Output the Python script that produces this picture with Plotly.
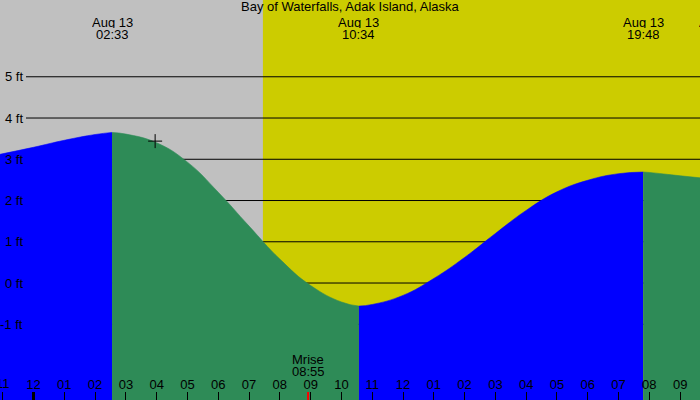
import plotly.graph_objects as go

# ---------------- data (hours after midnight, Aug 13) ----------------
title_text = "Bay of Waterfalls, Adak Island, Alaska"

tide_hours = [-1.088, 0, 1, 2, 2.55, 3, 4, 5, 6, 7, 8, 9, 10, 10.567,
              11, 12, 13, 14, 15, 16, 17, 18, 19, 19.8, 20, 21, 21.645]
tide_ft = [3.12, 3.29, 3.46, 3.60, 3.65, 3.61, 3.40, 2.93, 2.20, 1.38, 0.58,
           -0.06, -0.46, -0.56, -0.52, -0.30, 0.11, 0.62, 1.20, 1.76, 2.21,
           2.49, 2.65, 2.69, 2.68, 2.60, 2.55]

event_hours = [2.55, 10.567, 19.8]          # high, low, high
event_dates = ["Aug 13", "Aug 13", "Aug 13"]
event_times = ["02:33", "10:34", "19:48"]
first_event_is_high = True

offscreen_date = "Aug 13"                   # label cut by the right edge

sunrise_hour = 7.45
moonrise_hour = 8.917
moonrise_name = "Mrise"
moonrise_time = "08:55"
midnight_hour = 0

now_hour = [3.95]
now_ft = [3.44]

tick_hours = list(range(-1, 22))
tick_labels = ["11", "12", "01", "02", "03", "04", "05", "06", "07", "08",
               "09", "10", "11", "12", "01", "02", "03", "04", "05", "06",
               "07", "08", "09"]

ft_levels = [-1, 0, 1, 2, 3, 4, 5]
ft_labels = ["-1 ft", "0 ft", "1 ft", "2 ft", "3 ft", "4 ft", "5 ft"]

x_range = [-1.088, 21.645]
y_range = [-2.836, 6.861]

# ---------------- styling ----------------
W, H = 700, 400
FONT = "Liberation Sans, Arial, sans-serif"
NIGHT = "#C0C0C0"
DAY = "#CCCC00"
RISING = "#0000FF"
FALLING = "#2E8B57"

fig = go.Figure()

# tide area, split at each high / low
bounds = [x_range[0]] + event_hours + [x_range[1]]
rising = first_event_is_high
for i in range(len(bounds) - 1):
    lo, hi = bounds[i], bounds[i + 1]
    seg = [(h, v) for h, v in zip(tide_hours, tide_ft)
           if lo - 1e-6 <= h <= hi + 1e-6]
    sx = [p[0] for p in seg]
    sy = [p[1] for p in seg]
    color = RISING if rising else FALLING
    fig.add_trace(go.Scatter(x=[sx[0], sx[-1]], y=[y_range[0], y_range[0]],
                             mode="lines", line=dict(width=0),
                             hoverinfo="skip", showlegend=False))
    fig.add_trace(go.Scatter(x=sx, y=sy, mode="lines",
                             line=dict(width=0.6, color=color, shape="spline",
                                       smoothing=1.3),
                             fill="tonexty", fillcolor=color,
                             hoverinfo="skip", showlegend=False))
    rising = not rising

# current time marker
fig.add_trace(go.Scatter(x=now_hour, y=now_ft, mode="markers",
                         marker=dict(symbol="cross-thin", size=10,
                                     line=dict(width=1, color="black")),
                         hoverinfo="skip", showlegend=False))

shapes = []
shapes.append(dict(type="rect", xref="x", yref="paper", x0=x_range[0],
                   x1=sunrise_hour, y0=0, y1=1, fillcolor=NIGHT,
                   line=dict(width=0), layer="below"))
shapes.append(dict(type="rect", xref="x", yref="paper", x0=sunrise_hour,
                   x1=x_range[1], y0=0, y1=1, fillcolor=DAY,
                   line=dict(width=0), layer="below"))
for lvl in ft_levels:
    shapes.append(dict(type="line", xref="paper", yref="y", x0=26 / W, x1=1,
                       y0=lvl, y1=lvl, line=dict(color="black", width=1),
                       layer="below"))
shapes.append(dict(type="line", xref="x", yref="paper", x0=midnight_hour,
                   x1=midnight_hour, y0=0, y1=8 / H,
                   line=dict(color="black", width=3), layer="above"))
shapes.append(dict(type="line", xref="x", yref="paper", x0=moonrise_hour,
                   x1=moonrise_hour, y0=0, y1=8 / H,
                   line=dict(color="red", width=2), layer="above"))

ann = []
f13 = dict(family=FONT, size=13, color="black")
ann.append(dict(text=title_text, xref="paper", yref="paper", x=0.5, y=1,
                xanchor="center", yanchor="top", yshift=3, showarrow=False,
                font=f13))
for lvl, lab in zip(ft_levels, ft_labels):
    ann.append(dict(text=lab, xref="paper", yref="y", x=25 / W, y=lvl,
                    xanchor="right", yanchor="middle", showarrow=False,
                    font=f13))
for h, d, t in zip(event_hours, event_dates, event_times):
    ann.append(dict(text=d, xref="x", yref="paper", x=h, y=1, height=12,
                    xanchor="center", yanchor="top", yshift=-14,
                    showarrow=False, font=f13))
    ann.append(dict(text=t, xref="x", yref="paper", x=h, y=1, height=12,
                    xanchor="center", yanchor="top", yshift=-26,
                    showarrow=False, font=f13))
ann.append(dict(text=offscreen_date, xref="paper", yref="paper", x=697 / W,
                y=1, height=12, xanchor="left", yanchor="top", yshift=-14,
                showarrow=False, font=f13))
ann.append(dict(text=moonrise_name, xref="x", yref="paper", x=moonrise_hour,
                y=0, height=12, xanchor="center", yanchor="bottom", yshift=33,
                showarrow=False, font=f13))
ann.append(dict(text=moonrise_time, xref="x", yref="paper", x=moonrise_hour,
                y=0, height=12, xanchor="center", yanchor="bottom", yshift=21,
                showarrow=False, font=f13))
# edge hour label that plotly would drop (partly cut by the left edge)
ann.append(dict(text=tick_labels[0], xref="x", yref="paper",
                x=tick_hours[0], y=0, height=12, xanchor="center",
                yanchor="bottom", yshift=9, showarrow=False, font=f13))

fig.update_layout(
    width=W, height=H,
    margin=dict(l=0, r=0, t=0, b=0),
    paper_bgcolor=NIGHT, plot_bgcolor=NIGHT,
    showlegend=False,
    shapes=shapes, annotations=ann,
    xaxis=dict(range=x_range, tickmode="array", tickvals=tick_hours,
               ticktext=tick_labels, ticks="inside", ticklen=8, tickwidth=1,
               tickcolor="black", ticklabelposition="inside",
               tickfont=f13, showgrid=False, zeroline=False, showline=False,
               automargin=False, fixedrange=True),
    yaxis=dict(range=y_range, showgrid=False, zeroline=False,
               showticklabels=False, ticks="", showline=False,
               automargin=False, fixedrange=True),
)

fig.write_html("out.html",
               config={"displayModeBar": False},
               post_script="document.body.style.margin='0';"
                           "document.body.style.overflow='hidden';")
